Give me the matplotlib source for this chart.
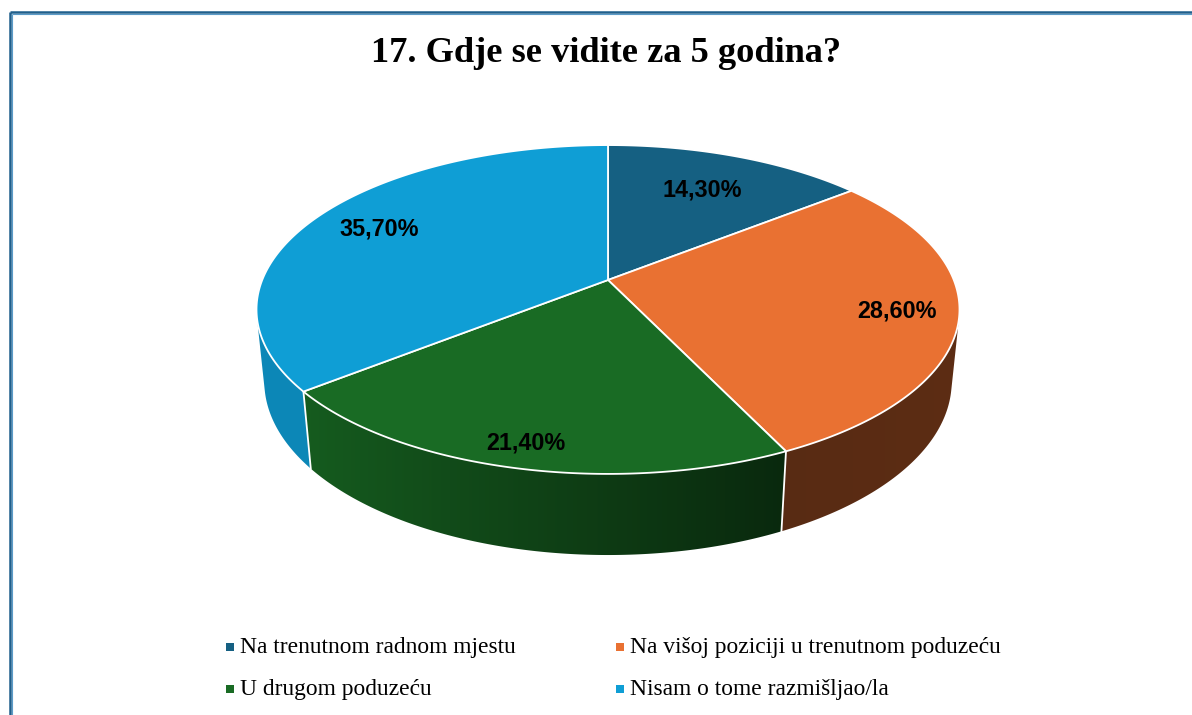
import numpy as np
import matplotlib
matplotlib.use("Agg")
import matplotlib.pyplot as plt
from matplotlib.patches import Polygon
from matplotlib.colors import to_rgb

# ---- data ----
title = "17. Gdje se vidite za 5 godina?"
categories = ["Na trenutnom radnom mjestu", "Na višoj poziciji u trenutnom poduzeću",
              "U drugom poduzeću", "Nisam o tome razmišljao/la"]
values = [14.30, 28.60, 21.40, 35.70]
value_labels = ["14,30%", "28,60%", "21,40%", "35,70%"]
colors = ["#156082", "#E97132", "#196B24", "#0F9ED5"]

# ---- layout ----
W, H = 1192, 715
cx, cy = 608, 280          # projected pie centre (pixels)
phi = np.radians(27.4)     # elevation
Dcam = 4.95                # camera distance (radius units)
focal = 1711.7             # focal length (pixels)
depth_h = 0.2365           # thickness of the pie (radius units)
label_r = [0.70, 0.83, 0.89, 0.78]

s, c = np.sin(phi), np.cos(phi)


def proj(theta, r=1.0, z=0.0):
    X = r * np.sin(theta)
    Y = r * np.cos(theta)
    d = Dcam + Y * c - z * s
    u = focal * X / d
    v = focal * (Y * s + z * c) / d
    return cx + u, cy - v


def shade(theta):
    nx = np.sin(theta)
    return np.interp(nx, [-1.0, -0.78, 0.43, 1.0], [0.86, 0.86, 0.38, 0.40])


fig = plt.figure(figsize=(W / 100, H / 100), dpi=100)
ax = fig.add_axes([0, 0, 1, 1])
ax.set_xlim(0, W)
ax.set_ylim(H, 0)
ax.axis("off")

total = sum(values)
fracs = np.array(values) / total
bounds = np.concatenate([[0], np.cumsum(fracs)]) * 2 * np.pi

# ---- side walls (visible front part only), smooth gradient ----
vis_lim = -1.0 / (Dcam * c)
th_lo = np.arccos(vis_lim)             # start of visible wall (right silhouette)
th_hi = 2 * np.pi - th_lo              # end of visible wall (left silhouette)
for i in range(len(values)):
    t1 = max(bounds[i], th_lo)
    t2 = min(bounds[i + 1], th_hi)
    if t2 <= t1:
        continue
    ts = np.linspace(t1, t2, 300)
    xt, yt = proj(ts)
    xb, yb = proj(ts[::-1], z=-depth_h)
    pts = np.column_stack([np.concatenate([xt, xb]), np.concatenate([yt, yb])])
    poly = Polygon(pts, closed=True, facecolor="none", edgecolor="none")
    ax.add_patch(poly)
    # gradient image along x
    xs_sorted = np.argsort(xt)
    xmin, xmax = min(xt.min(), xb.min()), max(xt.max(), xb.max())
    ymin, ymax = min(yt.min(), yb.min()), max(yt.max(), yb.max())
    ncol = 400
    gx = np.linspace(xmin, xmax, ncol)
    gth = np.interp(gx, xt[xs_sorted], ts[xs_sorted])
    base = np.array(to_rgb(colors[i]))
    img = np.clip(base[None, :] * shade(gth)[:, None], 0, 1)[None, :, :]
    im = ax.imshow(img, extent=[xmin - 1, xmax + 1, ymax + 1, ymin - 1],
                   aspect="auto", interpolation="bilinear", zorder=2)
    im.set_clip_path(poly)

ax.set_xlim(0, W)
ax.set_ylim(H, 0)

# white vertical lines at visible slice boundaries
for t in bounds[1:-1]:
    if np.cos(t) < vis_lim:
        x0, y0 = proj(t)
        x1, y1 = proj(t, z=-depth_h)
        ax.plot([x0, x1], [y0, y1], color="white", lw=1.3, zorder=3)

# ---- top faces ----
for i in range(len(values)):
    t1, t2 = bounds[i], bounds[i + 1]
    ts = np.linspace(t1, t2, 200)
    xr, yr = proj(ts)
    ox, oy = proj(0.0, r=0.0)
    pts = np.column_stack([np.concatenate([[ox], xr]), np.concatenate([[oy], yr])])
    ax.add_patch(Polygon(pts, closed=True, facecolor=colors[i], edgecolor="white",
                         lw=1.3, joinstyle="round", zorder=4))

# ---- value labels ----
for i in range(len(values)):
    m = 0.5 * (bounds[i] + bounds[i + 1])
    lx, ly = proj(m, r=label_r[i])
    ax.text(lx, ly, value_labels[i], ha="center", va="center", fontsize=16.8,
            fontweight="bold", family="Liberation Sans", color="black", zorder=5)

# ---- title ----
ax.text(606, 53, title, ha="center", va="center", fontsize=26.2, fontweight="bold",
        family="Liberation Serif", color="black")

# ---- legend ----
leg_x = [226, 616]
leg_y = [647, 689]
for i, lab in enumerate(categories):
    col_i = i % 2
    row_i = i // 2
    mx = leg_x[col_i] + 3.5
    my = leg_y[row_i]
    ax.scatter([mx], [my], marker="s", s=30, color=colors[i], linewidths=0, zorder=5)
    ax.text(mx + 10, my + 1, lab, ha="left", va="center", fontsize=16.9,
            family="Liberation Serif", color="black")

# ---- frame ----
ax.plot([10, W], [12, 12], color="#1f5f8c", lw=1.8, solid_capstyle="butt")
ax.plot([10, 10], [12, H], color="#1f5f8c", lw=1.8, solid_capstyle="butt")
ax.plot([11.5, W], [13.5, 13.5], color="#5b9bc8", lw=0.8, solid_capstyle="butt")
ax.plot([11.5, 11.5], [13.5, H], color="#5b9bc8", lw=0.8, solid_capstyle="butt")

fig.savefig("out.png", dpi=100)
